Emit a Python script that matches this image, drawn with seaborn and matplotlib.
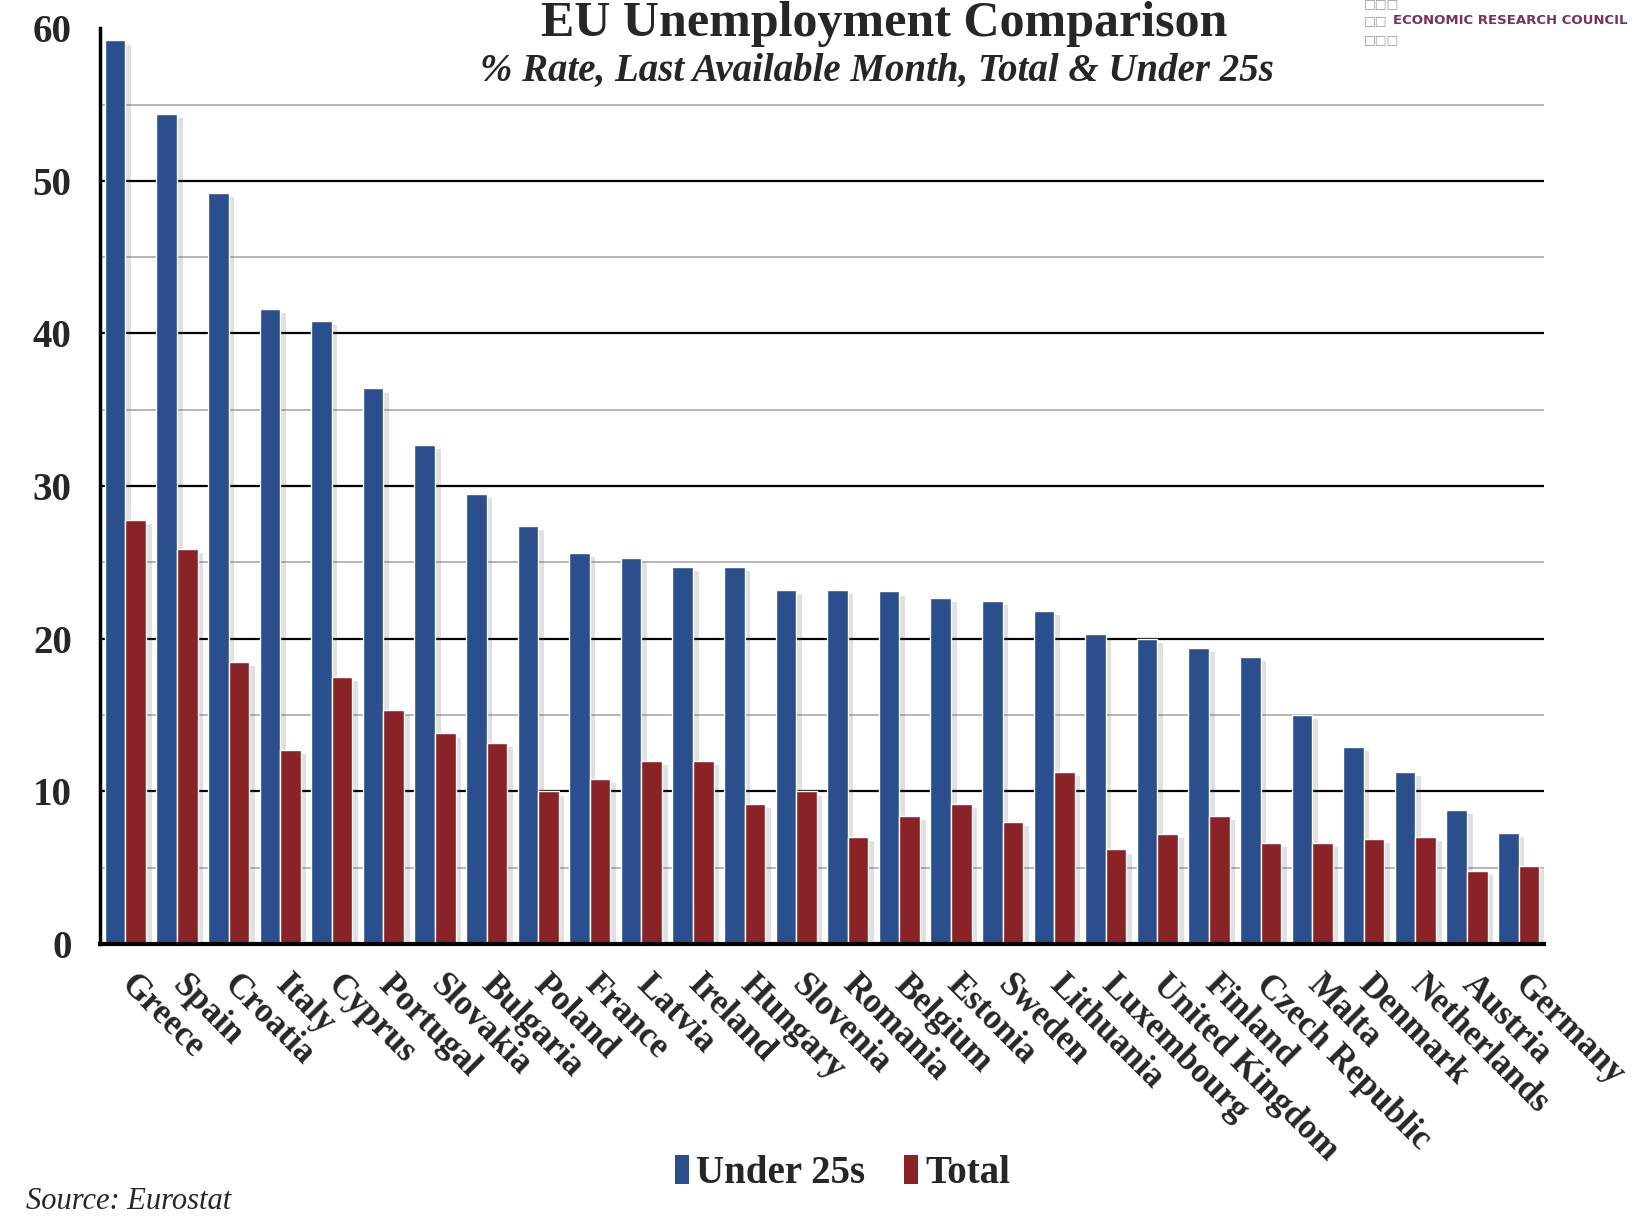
import matplotlib
matplotlib.use('Agg')
import matplotlib.pyplot as plt
import matplotlib.patheffects as pe
import pandas as pd
import seaborn as sns
from matplotlib.patches import Patch
from matplotlib.ticker import MultipleLocator

countries = ['Greece', 'Spain', 'Croatia', 'Italy', 'Cyprus', 'Portugal', 'Slovakia',
             'Bulgaria', 'Poland', 'France', 'Latvia', 'Ireland', 'Hungary', 'Slovenia',
             'Romania', 'Belgium', 'Estonia', 'Sweden', 'Lithuania', 'Luxembourg',
             'United Kingdom', 'Finland', 'Czech Republic', 'Malta', 'Denmark',
             'Netherlands', 'Austria', 'Germany']
under25 = [59.2, 54.4, 49.2, 41.6, 40.8, 36.4, 32.7, 29.5, 27.4, 25.6, 25.3, 24.7, 24.7,
           23.2, 23.2, 23.1, 22.7, 22.5, 21.8, 20.3, 20.0, 19.4, 18.8, 15.0, 12.9, 11.3,
           8.8, 7.3]
total = [27.8, 25.9, 18.5, 12.7, 17.5, 15.3, 13.8, 13.2, 10.0, 10.8, 12.0, 12.0, 9.2,
         10.0, 7.0, 8.4, 9.2, 8.0, 11.3, 6.2, 7.2, 8.4, 6.6, 6.6, 6.9, 7.0, 4.8, 5.1]
series = ['Under 25s', 'Total']
colors = {'Under 25s': '#2B4F8C', 'Total': '#8A2327'}

n = len(countries)
df = pd.DataFrame({
    'country': countries * 2,
    'rate': under25 + total,
    'series': [series[0]] * n + [series[1]] * n,
})

sns.set_style('white')
plt.rcParams['font.family'] = ['Liberation Serif', 'DejaVu Serif']

fig = plt.figure(figsize=(16.43, 12.26), dpi=100)
ax = fig.add_axes([0.0606, 0.230, 0.8794, 0.747])

sns.barplot(data=df, x='country', y='rate', hue='series', hue_order=series,
            palette=colors, width=0.8, saturation=1, legend=False, ax=ax)

# soft drop shadow to the right of each bar
shadow = [pe.SimplePatchShadow(offset=(4, -3), alpha=0.18, shadow_rgbFace='#555555'), pe.Normal()]
for cont in ax.containers:
    for bar in cont:
        bar.set_path_effects(shadow)

ax.set_ylim(0, 60)
ax.set_xlim(-0.5, n - 0.5)
ax.yaxis.set_major_locator(MultipleLocator(10))
ax.yaxis.set_minor_locator(MultipleLocator(5))
ax.yaxis.grid(True, which='major', color='black', lw=1.6)
ax.yaxis.grid(True, which='minor', color='#b5b5b5', lw=1.4)
ax.set_axisbelow(True)

ax.set_xticks(range(n))
ax.set_xticklabels(countries, rotation=-45, ha='left', va='center',
                   rotation_mode='anchor', fontsize=25, fontweight='bold')
ax.set_xticks([i - 0.5 for i in range(n + 1)], minor=True)
ax.tick_params(axis='x', which='major', length=0, pad=26)
ax.tick_params(axis='x', which='minor', length=12, width=2, direction='out', color='black')
ax.tick_params(axis='y', which='major', length=12, width=2, direction='out', color='black',
               labelsize=28, pad=8)
ax.tick_params(axis='y', which='minor', length=0)
for lbl in ax.get_yticklabels():
    lbl.set_fontweight('bold')

# no gridline along the top (60)
for tick in ax.yaxis.get_major_ticks():
    if tick.get_loc() >= 60:
        tick.gridline.set_visible(False)

for side in ['top', 'right']:
    ax.spines[side].set_visible(False)
ax.spines['left'].set_color('black')
ax.spines['left'].set_linewidth(2.5)
ax.spines['bottom'].set_color('black')
ax.spines['bottom'].set_linewidth(3)
ax.set_xlabel('')
ax.set_ylabel('')

fig.text(0.538, 0.971, 'EU Unemployment Comparison', ha='center', va='baseline',
         fontsize=36, fontweight='bold')
fig.text(0.534, 0.934, '% Rate, Last Available Month, Total & Under 25s', ha='center',
         va='baseline', fontsize=28, fontweight='bold', style='italic')

# logo
for y, marks in [(0.997, '□□□'), (0.983, '□□'), (0.968, '□□□')]:
    fig.text(0.830, y, marks, ha='left', va='center', fontsize=9, color='#999999',
             family='DejaVu Sans')
fig.text(0.848, 0.983, 'ECONOMIC RESEARCH COUNCIL', ha='left', va='center', fontsize=9.5,
         fontweight='bold', color='#7a3355', family='DejaVu Sans')

handles = [Patch(facecolor=colors[s], edgecolor='none', label=s) for s in series]
fig.legend(handles=handles, loc='center', bbox_to_anchor=(0.513, 0.043), ncol=2,
           frameon=False, handlelength=0.35, handleheight=0.8, handletextpad=0.2,
           columnspacing=1.0, prop={'size': 28, 'weight': 'bold'})

fig.text(0.016, 0.014, 'Source: Eurostat', ha='left', va='baseline', fontsize=22,
         style='italic')

fig.savefig('out.png', dpi=100)
